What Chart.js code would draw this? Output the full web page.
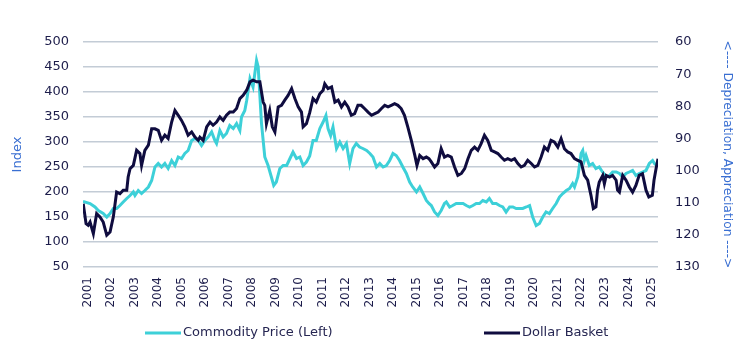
<!DOCTYPE html>
<html>
<head>
<meta charset="utf-8">
<script src="https://cdn.jsdelivr.net/npm/chart.js@4.4.1/dist/chart.umd.min.js"></script>
<style>
  html, body { margin: 0; padding: 0; background: #ffffff; }
  #wrap { width: 752px; height: 349px; position: relative; }
</style>
</head>
<body>
<div id="wrap"><canvas id="c" width="752" height="349"></canvas></div>
<script>
// ---------------- DATA ----------------
const seriesNames = ['Commodity Price (Left)', 'Dollar Basket'];
const leftAxisTitle = 'Index';
const rightAxisTitle = '<---- Depreciation, Appreciation ---->';

const tickYears = [2001,2002,2003,2004,2005,2006,2007,2008,2009,2010,2011,2012,2013,2014,2015,2016,2017,2018,2019,2020,2021,2022,2023,2024,2025];
const leftTickValues = [50,100,150,200,250,300,350,400,450,500];
const rightTickValues = [60,70,80,90,100,110,120,130];

const commodityDates = [
  2001.00,2001.30,2001.51,2001.65,2001.86,2002.01,2002.15,2002.29,2002.43,2002.57,2002.71,2002.86,
  2003.00,2003.14,2003.21,2003.35,2003.49,2003.63,2003.78,2003.92,2004.06,2004.20,2004.34,2004.48,
  2004.62,2004.77,2004.91,2005.05,2005.19,2005.33,2005.47,2005.62,2005.76,2005.90,2006.04,2006.18,
  2006.32,2006.47,2006.61,2006.68,2006.82,2006.96,2007.10,2007.24,2007.39,2007.53,2007.67,2007.74,
  2007.88,2007.96,2008.10,2008.23,2008.38,2008.45,2008.59,2008.73,2008.87,2009.01,2009.11,2009.22,
  2009.37,2009.51,2009.66,2009.80,2009.93,2010.08,2010.22,2010.36,2010.50,2010.64,2010.78,2010.92,
  2011.07,2011.21,2011.33,2011.42,2011.53,2011.63,2011.78,2011.92,2012.06,2012.20,2012.34,2012.48,
  2012.62,2012.76,2012.90,2013.06,2013.20,2013.33,2013.48,2013.62,2013.76,2013.90,2014.04,2014.18,
  2014.32,2014.46,2014.60,2014.75,2014.89,2015.02,2015.18,2015.32,2015.46,2015.60,2015.71,2015.81,
  2015.95,2016.09,2016.23,2016.37,2016.45,2016.59,2016.72,2016.87,2017.01,2017.16,2017.30,2017.44,
  2017.58,2017.72,2017.86,2018.00,2018.15,2018.28,2018.42,2018.57,2018.71,2018.85,2018.99,2019.14,
  2019.28,2019.42,2019.56,2019.70,2019.85,2019.99,2020.12,2020.27,2020.41,2020.55,2020.69,2020.83,
  2020.97,2021.12,2021.26,2021.40,2021.55,2021.69,2021.82,2021.90,2022.04,2022.11,2022.18,2022.25,
  2022.32,2022.39,2022.53,2022.67,2022.81,2022.95,2023.09,2023.25,2023.39,2023.52,2023.67,2023.81,
  2023.95,2024.09,2024.23,2024.37,2024.51,2024.65,2024.79,2024.94,2025.08,2025.22,2025.30,2025.39
];
const commodityValues = [
  181,177,170,163,157,150,157,167,167,173,180,187,
  193,200,193,203,197,203,210,223,250,257,250,257,
  247,263,253,270,267,277,283,303,307,303,293,303,
  310,320,303,297,323,310,317,333,327,337,323,350,
  363,383,427,410,463,450,337,270,253,230,213,220,
  247,253,253,267,280,267,270,253,260,272,303,303,
  327,340,353,327,313,330,287,300,287,297,257,287,
  297,290,287,283,277,270,250,257,250,253,263,277,
  273,263,250,237,220,210,200,210,197,183,177,173,
  160,153,163,177,180,170,173,177,177,177,173,170,
  173,177,177,183,180,187,177,177,173,170,160,170,
  170,167,167,167,170,173,150,133,137,150,160,157,
  167,177,190,197,203,207,217,210,230,253,277,283,
  263,273,253,257,247,250,240,230,233,240,240,237,
  230,237,240,243,233,237,240,243,257,263,257,253
];

const dollarDates = [
  2001.01,2001.13,2001.22,2001.30,2001.44,2001.58,2001.72,2001.86,2002.01,2002.15,2002.29,2002.43,
  2002.57,2002.71,2002.86,2002.92,2003.00,2003.14,2003.28,2003.42,2003.49,2003.63,2003.78,2003.92,
  2004.06,2004.20,2004.34,2004.48,2004.62,2004.77,2004.91,2005.05,2005.19,2005.33,2005.47,2005.62,
  2005.76,2005.90,2005.97,2006.11,2006.26,2006.40,2006.53,2006.68,2006.82,2006.96,2007.10,2007.24,
  2007.39,2007.53,2007.67,2007.81,2007.96,2008.10,2008.23,2008.38,2008.52,2008.66,2008.73,2008.80,
  2008.94,2009.05,2009.16,2009.30,2009.44,2009.58,2009.72,2009.87,2010.01,2010.15,2010.29,2010.36,
  2010.50,2010.64,2010.78,2010.92,2011.07,2011.21,2011.28,2011.42,2011.57,2011.71,2011.85,2011.99,
  2012.13,2012.27,2012.41,2012.55,2012.69,2012.83,2012.97,2013.12,2013.27,2013.41,2013.55,2013.69,
  2013.83,2013.97,2014.11,2014.25,2014.39,2014.53,2014.67,2014.81,2014.96,2015.11,2015.20,2015.32,
  2015.46,2015.60,2015.71,2015.81,2015.95,2016.09,2016.23,2016.37,2016.51,2016.66,2016.80,2016.94,
  2017.09,2017.23,2017.37,2017.51,2017.65,2017.79,2017.93,2018.07,2018.21,2018.36,2018.50,2018.64,
  2018.78,2018.92,2019.06,2019.21,2019.35,2019.49,2019.63,2019.77,2019.91,2020.06,2020.20,2020.34,
  2020.48,2020.62,2020.76,2020.90,2021.04,2021.19,2021.33,2021.47,2021.61,2021.75,2021.90,2022.04,
  2022.18,2022.32,2022.46,2022.60,2022.70,2022.81,2022.88,2022.95,2023.10,2023.17,2023.25,2023.39,
  2023.52,2023.67,2023.73,2023.81,2023.95,2024.09,2024.23,2024.37,2024.51,2024.65,2024.79,2024.94,
  2025.06,2025.21,2025.28,2025.38,2025.45
];
const dollarValues = [
  110.3,116.5,117.0,116.0,119.6,113.4,114.4,116.0,120.1,119.1,114.4,106.7,
  107.2,106.1,106.1,102.0,99.4,98.4,93.7,94.7,98.4,93.7,92.1,87.0,
  87.0,87.5,90.6,89.0,90.0,84.9,81.3,82.8,84.4,86.4,89.0,88.0,
  89.6,90.6,89.6,90.6,86.4,84.9,85.9,84.9,83.3,84.4,82.8,81.8,
  81.8,80.7,77.6,76.6,75.0,72.4,71.9,72.4,72.4,78.7,79.7,85.4,
  81.3,86.4,88.0,80.2,79.7,78.1,76.6,74.5,77.6,80.2,81.8,86.4,
  85.4,82.0,77.6,78.7,76.1,75.0,73.0,74.5,74.0,78.7,78.1,80.2,
  78.7,80.2,82.8,82.3,79.7,79.7,80.7,81.8,82.8,82.3,81.8,80.7,
  79.7,80.2,79.7,79.2,79.7,80.7,82.8,86.4,90.6,95.3,98.4,95.3,
  96.3,95.8,96.3,97.3,98.9,97.8,93.2,95.8,95.3,95.8,98.9,101.5,
  100.9,99.4,96.3,93.7,92.7,93.7,91.6,89.0,90.6,93.7,94.2,94.7,
  95.8,96.8,96.3,96.8,96.3,97.8,98.9,98.4,96.8,97.8,98.9,98.4,
  95.8,92.7,93.7,90.6,91.1,92.7,90.1,93.2,94.2,94.7,96.3,96.8,
  97.3,101.5,103.0,107.7,111.8,111.3,106.1,103.6,101.5,104.1,101.5,102.0,
  101.5,103.0,106.1,106.7,101.5,103.0,105.1,106.7,104.6,101.5,101.0,106.1,
  108.2,107.7,103.0,98.9,96.3
];

// ---------------- CHART ----------------
const FONT = 'DejaVu Sans';
const tickColor = '#1d1d4b';
const titleColor = '#3a6fd2';
const cyan = '#3dd0d8';
const navy = '#0f0c3f';

const toPoints = (xs, ys) => xs.map((x, i) => ({ x: x, y: ys[i] }));

const bottomLegend = {
  id: 'bottomLegend',
  afterDraw(chart, args, opts) {
    const ctx = chart.ctx;
    ctx.save();
    ctx.font = opts.fontSize + 'px "' + FONT + '"';
    ctx.textBaseline = 'middle';
    ctx.textAlign = 'left';
    chart.data.datasets.forEach((ds, i) => {
      const x = opts.starts[i];
      ctx.strokeStyle = ds.borderColor;
      ctx.lineWidth = opts.lineWidth;
      ctx.beginPath();
      ctx.moveTo(x, opts.y);
      ctx.lineTo(x + opts.lineLength, opts.y);
      ctx.stroke();
      ctx.fillStyle = opts.color;
      ctx.fillText(ds.label, x + opts.lineLength + opts.gap, opts.y);
    });
    ctx.restore();
  }
};

new Chart(document.getElementById('c'), {
  type: 'line',
  data: {
    datasets: [
      {
        label: seriesNames[0],
        data: toPoints(commodityDates, commodityValues),
        yAxisID: 'y',
        borderColor: cyan,
        backgroundColor: cyan,
        borderWidth: 3,
        pointRadius: 0,
        tension: 0,
        order: 1
      },
      {
        label: seriesNames[1],
        data: toPoints(dollarDates, dollarValues),
        yAxisID: 'y2',
        borderColor: navy,
        backgroundColor: navy,
        borderWidth: 3,
        pointRadius: 0,
        tension: 0,
        order: 0
      }
    ]
  },
  options: {
    responsive: false,
    animation: false,
    devicePixelRatio: 1,
    layout: { padding: { top: 42, bottom: 37, left: 0, right: 0 } },
    plugins: {
      legend: { display: false },
      tooltip: { enabled: false },
      bottomLegend: { starts: [145, 484], y: 333, lineLength: 36, gap: 2, lineWidth: 3, fontSize: 13, color: '#262652' }
    },
    scales: {
      x: {
        type: 'linear',
        min: 2001,
        max: 2025.45,
        afterBuildTicks: s => { s.ticks = tickYears.map(v => ({ value: v })); },
        afterFit: s => { s.height = 45; },
        grid: { display: false, drawTicks: false },
        border: { display: false },
        ticks: {
          autoSkip: false,
          maxRotation: 90,
          minRotation: 90,
          labelOffset: 4.5,
          padding: 10,
          color: tickColor,
          font: { family: FONT, size: 12 },
          callback: v => String(v)
        }
      },
      y: {
        position: 'left',
        min: 50,
        max: 500,
        afterBuildTicks: s => { s.ticks = leftTickValues.map(v => ({ value: v })); },
        afterFit: s => { s.width = 83; },
        grid: { color: '#c3ccd6', lineWidth: 1.5, drawTicks: false },
        border: { display: false },
        ticks: { padding: 14, color: tickColor, font: { family: FONT, size: 13 } },
        title: { display: true, text: leftAxisTitle, color: titleColor, font: { family: FONT, size: 13 }, padding: { top: 10, bottom: 0 } }
      },
      y2: {
        position: 'right',
        reverse: true,
        min: 60,
        max: 130,
        afterBuildTicks: s => { s.ticks = rightTickValues.map(v => ({ value: v })); },
        afterFit: s => { s.width = 94; },
        grid: { drawOnChartArea: false, drawTicks: false },
        border: { display: false },
        ticks: { padding: 17, color: tickColor, font: { family: FONT, size: 13 } },
        title: { display: true, text: rightAxisTitle, color: titleColor, font: { family: FONT, size: 12.3 }, padding: { top: 17, bottom: 0 } }
      }
    }
  },
  plugins: [bottomLegend]
});
</script>
</body>
</html>
